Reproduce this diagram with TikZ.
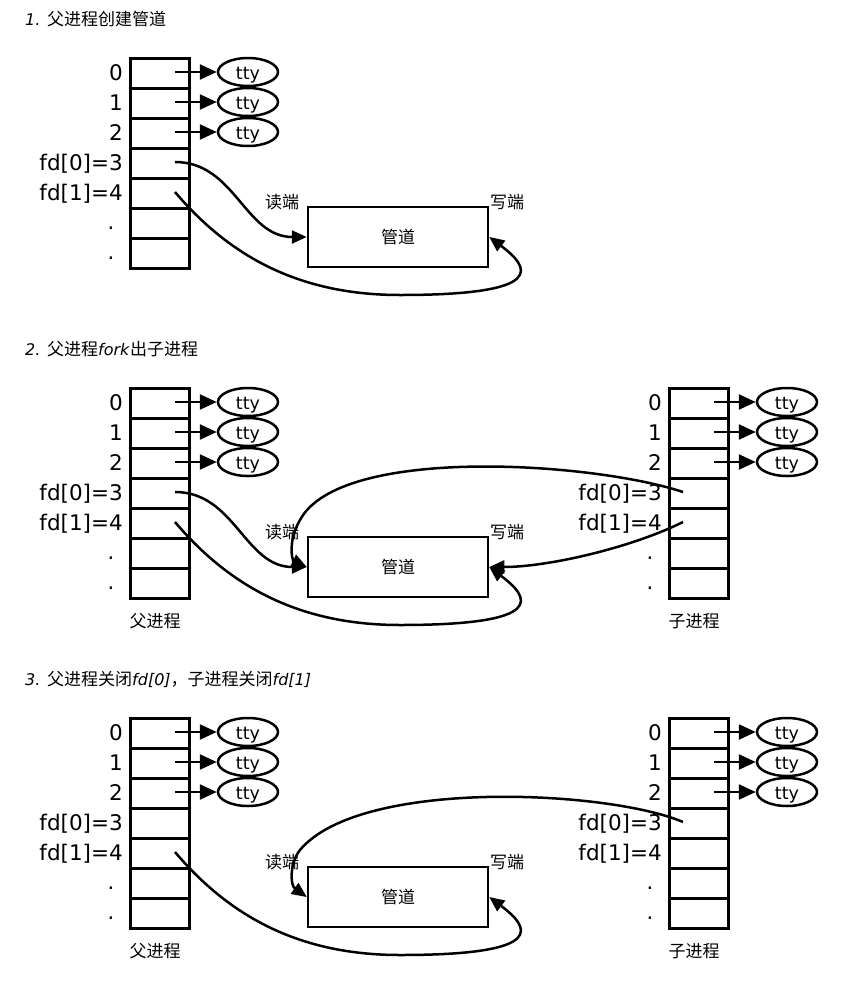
\documentclass[tikz,border=0pt]{standalone}
\usepackage{fontspec}
\setmainfont{DejaVu Sans}
\newfontfamily\cjk{Noto Sans CJK SC}
\usetikzlibrary{arrows.meta,shapes.geometric,calc}
\tikzset{
 cell/.style={draw,line width=2.5pt,minimum width=59pt,minimum height=30pt,inner sep=0pt,anchor=north west},
 ttynode/.style={draw,ellipse,line width=2.5pt,minimum width=60pt,minimum height=28pt,inner sep=0pt,text height=14pt,text depth=0pt,font=\fontsize{17.5}{17}\selectfont},
 pipebox/.style={draw,line width=2.5pt,minimum width=180pt,minimum height=60pt,font=\cjk\fontsize{17}{17}\selectfont},
 lbl/.style={anchor=base east,inner sep=0pt,font=\fontsize{21.5}{21}\selectfont},
 dotlbl/.style={anchor=base,inner sep=0pt,font=\fontsize{21}{21}\selectfont},
 cj/.style={inner sep=0pt,font=\cjk\fontsize{17}{17}\selectfont},
 ttl/.style={anchor=west,inner sep=0pt,font=\fontsize{16}{16}\selectfont},
 ttyarr/.style={line width=2.5pt,-{Triangle[length=17pt,width=15pt]}},
 carr/.style={line width=2.5pt,-{Triangle[length=15pt,width=13pt]}},
}
\newcommand\fdtable[4]{% #1 prefix, #2 x-left, #3 y-top, #4 process label
 \foreach \i in {0,...,6}{\node[cell] (#1c\i) at (#2,{#3+30*\i}) {};}
 \foreach \i/\t in {0/0,1/1,2/2,3/{fd[0]=3},4/{fd[1]=4}}{%
   \node[lbl] (#1l\i) at ({#2-6},{#3+30*\i+23}) {\t};
   \coordinate (#1o\i) at ({#2+46},{#3+30*\i+15});
   \coordinate (#1i\i) at ({#2+15},{#3+30*\i+15});}
 \node[dotlbl] (#1l5) at ({#2-18},{#3+30*5+22}) {.};
 \node[dotlbl] (#1l6) at ({#2-18},{#3+30*6+22}) {.};
 \foreach \i in {0,1,2}{%
   \node[ttynode] (#1t\i) at ({#2+119},{#3+30*\i+15}) {tty};
   \draw[ttyarr] (#1o\i) -- (#1t\i);}
 \ifx&#4&\else\node[cj] (#1name) at ({#2+26},{#3+234}) {#4};\fi
}
\newcommand\pipeat[2]{% #1 name, #2 y center
 \node[pipebox] (#1) at (398,#2) {管道};
 \node[cj] (#1r) at (282,{#2-35}) {读端};
 \node[cj] (#1w) at (507,{#2-35}) {写端};
}
\begin{document}
\begin{tikzpicture}[x=1pt,y=-1pt]
\fill[white] (0,0) rectangle (858,988);
\useasboundingbox (0,0) rectangle (858,988);

% ---------- panel 1
\node[ttl] (T1) at (25,19) {\textit{1.} {\cjk\fontsize{17}{17}\selectfont 父进程创建管道}};
\fdtable{P}{129}{57}{}
\pipeat{pipeA}{237}
\coordinate (BA) at (400,295);
\draw[carr] (Po3) .. controls +(60,0) and +(-62,0) .. (pipeA.west);
\draw[carr] (Po4) .. controls +(55,65) and +(-100,0) .. (BA) .. controls +(150,0) and +(40,30) .. (pipeA.east);

% ---------- panel 2
\node[ttl] (T2) at (25,349) {\textit{2.} {\cjk\fontsize{17}{17}\selectfont 父进程}\textit{fork}{\cjk\fontsize{17}{17}\selectfont 出子进程}};
\fdtable{Q}{129}{387}{父进程}
\fdtable{R}{668}{387}{子进程}
\pipeat{pipeB}{567}
\coordinate (BB) at (400,625);
\coordinate (KB) at (300,520);
\draw[carr] (Qo3) .. controls +(60,0) and +(-62,0) .. (pipeB.west);
\draw[carr] (Qo4) .. controls +(55,65) and +(-100,0) .. (BB) .. controls +(150,0) and +(40,30) .. (pipeB.east);
\draw[carr] (Ri3) .. controls +(-90,-30) and +(40,-75) .. (KB) .. controls +(-12,20) and +(-15,-7) .. (pipeB.west);
\draw[carr] (Ri4) .. controls +(-50,25) and +(60,0) .. (pipeB.east);

% ---------- panel 3
\node[ttl] (T3) at (25,679) {\textit{3.} {\cjk\fontsize{17}{17}\selectfont 父进程关闭}\textit{fd[0]}{\cjk\fontsize{17}{17}\selectfont ，子进程关闭}\textit{fd[1]}};
\fdtable{S}{129}{717}{父进程}
\fdtable{U}{668}{717}{子进程}
\pipeat{pipeC}{897}
\coordinate (BC) at (400,955);
\coordinate (KC) at (300,850);
\draw[carr] (So4) .. controls +(55,65) and +(-100,0) .. (BC) .. controls +(150,0) and +(40,30) .. (pipeC.east);
\draw[carr] (Ui3) .. controls +(-75,-32) and +(60,-72) .. (KC) .. controls +(-10,12) and +(-17,-12) .. (pipeC.west);
\end{tikzpicture}
\end{document}
